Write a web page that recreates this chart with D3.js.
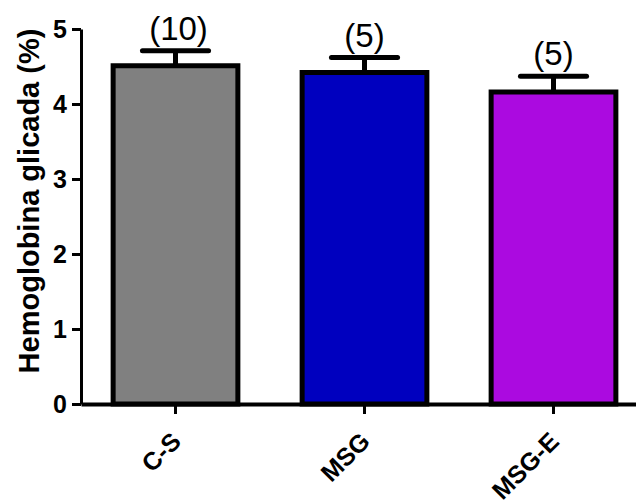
<!DOCTYPE html>
<html>
<head>
<meta charset="utf-8">
<script src="https://cdn.jsdelivr.net/npm/d3@7"></script>
<style>
  html, body { margin: 0; padding: 0; background: #fff; }
  svg { display: block; font-family: Arial, "Liberation Sans", sans-serif; }
</style>
</head>
<body>
<svg id="chart" width="636" height="504"></svg>
<script>
// Group names, mean glycated haemoglobin (%), SEM and sample sizes
const groups = ["C-S", "MSG", "MSG-E"];
const means = [4.51, 4.42, 4.16];
const errors = [0.20, 0.20, 0.21];
const sampleSizes = [10, 5, 5];
const barColors = ["#808080", "#0000bf", "#ab0ae0"];
const yTicks = [0, 1, 2, 3, 4, 5];

const svg = d3.select("#chart");

const x = d3.scaleBand()
  .domain(groups)
  .range([81, 648])
  .paddingInner(0.34)
  .paddingOuter(0.17);

const y = d3.scaleLinear()
  .domain([0, 5])
  .range([404, 29]);

const data = groups.map((g, i) => ({
  group: g, mean: means[i], err: errors[i], n: sampleSizes[i], color: barColors[i]
}));

// Bars
svg.append("g").selectAll("rect")
  .data(data)
  .join("rect")
  .attr("x", d => x(d.group))
  .attr("y", d => y(d.mean))
  .attr("width", x.bandwidth())
  .attr("height", d => y(0) - y(d.mean))
  .attr("fill", d => d.color)
  .attr("stroke", "#000")
  .attr("stroke-width", 5);

// Error bars (upper half only)
const eb = svg.append("g").attr("stroke", "#000").attr("stroke-width", 5);
const capHalf = x.bandwidth() * 0.265;
data.forEach(d => {
  const cx = x(d.group) + x.bandwidth() / 2;
  eb.append("line")
    .attr("x1", cx).attr("x2", cx)
    .attr("y1", y(d.mean)).attr("y2", y(d.mean + d.err));
  eb.append("line")
    .attr("x1", cx - capHalf).attr("x2", cx + capHalf)
    .attr("y1", y(d.mean + d.err)).attr("y2", y(d.mean + d.err))
    .attr("stroke-linecap", "round");
});

// Sample size labels
svg.append("g").selectAll("text")
  .data(data)
  .join("text")
  .attr("x", d => x(d.group) + x.bandwidth() / 2 + (d.n >= 10 ? 3 : 0))
  .attr("y", d => y(d.mean + d.err) - 11)
  .attr("text-anchor", "middle")
  .attr("font-size", 33)
  .attr("fill", "#000")
  .text(d => `(${d.n})`);

// Y axis
const yAxis = svg.append("g")
  .attr("transform", "translate(81,0)")
  .call(d3.axisLeft(y).tickValues(yTicks).tickSize(9).tickSizeOuter(0).tickPadding(5).tickFormat(d3.format("d")));
yAxis.select(".domain").attr("stroke", "#000").attr("stroke-width", 3);
yAxis.selectAll(".tick line").attr("stroke", "#000").attr("stroke-width", 3);
yAxis.selectAll(".tick text")
  .attr("font-size", 25)
  .attr("font-weight", "bold")
  .attr("font-family", "Arial, 'Liberation Sans', sans-serif")
  .attr("fill", "#000");

// X axis
const xAxis = svg.append("g")
  .attr("transform", "translate(0,404)")
  .call(d3.axisBottom(x).tickSize(10).tickSizeOuter(0));
xAxis.select(".domain").attr("stroke", "#000").attr("stroke-width", 4);
xAxis.selectAll(".tick line").attr("stroke", "#000").attr("stroke-width", 3);
xAxis.selectAll(".tick text")
  .attr("font-size", 25)
  .attr("font-weight", "bold")
  .attr("font-family", "Arial, 'Liberation Sans', sans-serif")
  .attr("fill", "#000")
  .attr("text-anchor", "end")
  .attr("x", 0).attr("y", 0).attr("dy", 0)
  .attr("transform", "translate(7,39) rotate(-45)");

// Y axis title
svg.append("text")
  .attr("transform", "translate(39,201) rotate(-90)")
  .attr("text-anchor", "middle")
  .attr("font-size", 29)
  .attr("font-weight", "bold")
  .attr("fill", "#000")
  .text("Hemoglobina glicada (%)");
</script>
</body>
</html>
